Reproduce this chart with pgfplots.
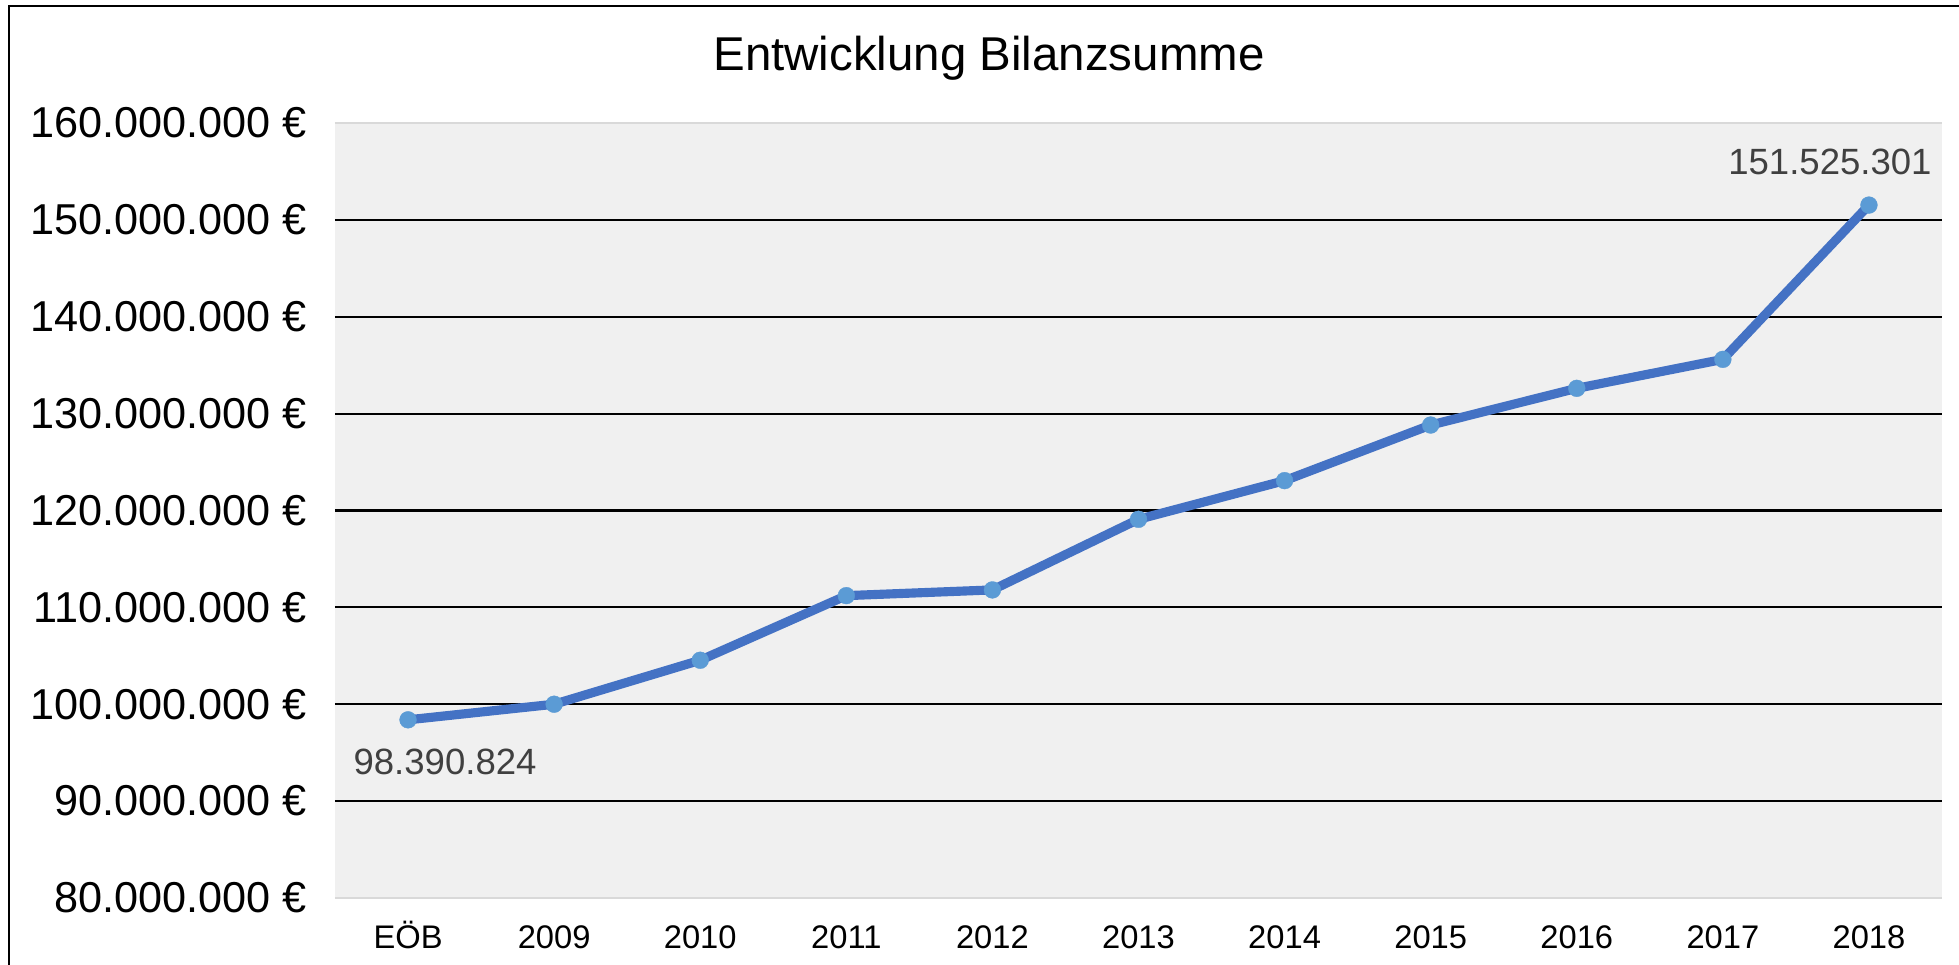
\documentclass[border=0pt]{standalone}
\usepackage{pgfplots}
\pgfplotsset{compat=1.18}
\usepackage{fontspec}
\setmainfont{Liberation Sans}

\definecolor{linecol}{HTML}{4472C4}
\definecolor{markcol}{HTML}{5B9BD5}
\definecolor{plotbg}{HTML}{F0F0F0}
\definecolor{edgecol}{HTML}{D9D9D9}
\definecolor{labelcol}{HTML}{404040}

\begin{document}
\begin{tikzpicture}
% page frame: 1 px of the reference = 0.1 mm
\path[use as bounding box] (0,0) rectangle (195.9mm,96.5mm);
\draw[line width=0.2mm] (0.9mm,0) -- (0.9mm,95.9mm) -- (195.9mm,95.9mm);
\node[anchor=base, font=\fontsize{13.5}{16}\selectfont] at (98.9mm,89.4mm) {Entwicklung Bilanzsumme};

\begin{axis}[
    at={(33.5mm,6.7mm)}, anchor=south west,
    scale only axis,
    width=160.7mm, height=77.5mm,
    xmin=-0.5, xmax=10.5,
    ymin=80000000, ymax=160000000,
    scaled y ticks=false,
    xtick={0,...,10},
    xticklabels={EÖB,2009,2010,2011,2012,2013,2014,2015,2016,2017,2018},
    ytick={80000000,90000000,100000000,110000000,120000000,130000000,140000000,150000000,160000000},
    yticklabels={80.000.000 €,90.000.000 €,100.000.000 €,110.000.000 €,120.000.000 €,130.000.000 €,140.000.000 €,150.000.000 €,160.000.000 €},
    extra y ticks={90000000,100000000,110000000,120000000,130000000,140000000,150000000},
    extra y tick labels={},
    extra y tick style={grid=major, major grid style={black, line width=0.6pt}, major tick length=0pt},
    major tick length=0pt,
    separate axis lines,
    x axis line style={draw=edgecol, line width=0.5pt},
    y axis line style={draw=none},
    axis background/.style={fill=plotbg},
    xticklabel style={font=\fontsize{9.3}{11}\selectfont, text height=2.4mm, text depth=0pt, yshift=-1.4mm},
    yticklabel style={font=\fontsize{12.3}{14}\selectfont, xshift=-1.6mm},
    clip=false,
]
\addplot[color=linecol, line width=2.6pt, line join=round,
    mark=*, mark size=2.4pt, mark options={draw=markcol, fill=markcol, line width=0.1pt}]
  coordinates {
    (0,98390824) (1,100000000) (2,104540000) (3,111210000) (4,111800000)
    (5,119090000) (6,123080000) (7,128820000) (8,132610000) (9,135600000)
    (10,151525301)
  };
\node[font=\fontsize{10.4}{12}\selectfont, text=labelcol, xshift=3.7mm, yshift=-4.2mm]
  at (axis cs:0,98390824) {98.390.824};
\node[font=\fontsize{10.4}{12}\selectfont, text=labelcol, xshift=-3.9mm, yshift=4.3mm]
  at (axis cs:10,151525301) {151.525.301};
\end{axis}
\end{tikzpicture}
\end{document}
